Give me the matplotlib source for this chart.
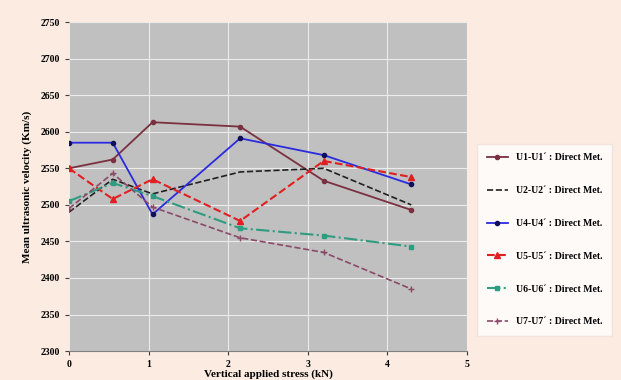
import matplotlib.pyplot as plt

plt.rcParams['font.family'] = ['Liberation Serif', 'DejaVu Serif']

# Vertical applied stress (kN) at each reading
stress = [0, 0.55, 1.05, 2.15, 3.2, 4.3]

u1 = [2550, 2562, 2613, 2607, 2533, 2493]
u2 = [2490, 2535, 2515, 2545, 2550, 2500]
u4 = [2585, 2585, 2487, 2591, 2568, 2528]
u5 = [2550, 2508, 2535, 2478, 2560, 2538]
u6 = [2505, 2530, 2512, 2468, 2458, 2443]
u7 = [2495, 2543, 2497, 2455, 2435, 2385]

labels = ["U1-U1´ : Direct Met.", "U2-U2´ : Direct Met.", "U4-U4´ : Direct Met.",
          "U5-U5´ : Direct Met.", "U6-U6´ : Direct Met.", "U7-U7´ : Direct Met."]

bg = '#fbebe0'
fig = plt.figure(figsize=(6.21, 3.80), dpi=100, facecolor=bg)
ax = fig.add_axes([0.111, 0.076, 0.641, 0.866])
ax.set_facecolor('#c0c0c0')

ax.plot(stress, u1, '-', color='#7a3040', marker='o', ms=3, lw=1.3, label=labels[0])
ax.plot(stress, u2, '--', color='#202020', lw=1.2, label=labels[1])
ax.plot(stress, u4, '-', color='#2a2ae0', marker='o', ms=3, mfc='#10105a', mec='#10105a',
        lw=1.3, label=labels[2])
ax.plot(stress, u5, '--', color='#e02020', marker='^', ms=4, lw=1.5, label=labels[3])
ax.plot(stress, u6, '-.', color='#2e9c80', marker='s', ms=3, lw=1.5, label=labels[4])
ax.plot(stress, u7, '--', color='#8a4a68', marker='+', ms=4, lw=1.2, label=labels[5])

ax.set_xlim(0, 5)
ax.set_ylim(2300, 2750)
ax.set_xticks(range(6))
ax.set_yticks(range(2300, 2751, 50))
ax.grid(True, color='#ececec', lw=0.8)
ax.set_axisbelow(True)
ax.tick_params(labelsize=7, length=3, color='#404040')
for t in ax.get_xticklabels() + ax.get_yticklabels():
    t.set_fontweight('bold')
for side in ['top', 'right', 'left']:
    ax.spines[side].set_visible(False)
ax.spines['bottom'].set_color('#808080')

ax.set_xlabel('Vertical applied stress (kN)', fontsize=8, fontweight='bold', labelpad=0)
ax.set_ylabel('Mean ultrasonic velocity (Km/s)', fontsize=8, fontweight='bold', labelpad=6)

leg = fig.legend(loc='upper left', bbox_to_anchor=(0.760, 0.635),
                 prop={'weight': 'bold', 'size': 7}, labelspacing=2.45,
                 handlelength=2.2, frameon=True, fancybox=False, borderpad=1.0)
leg.get_frame().set_facecolor('white')
leg.get_frame().set_edgecolor('#f0e0d8')

fig.savefig('out.png', dpi=100, facecolor=bg)
